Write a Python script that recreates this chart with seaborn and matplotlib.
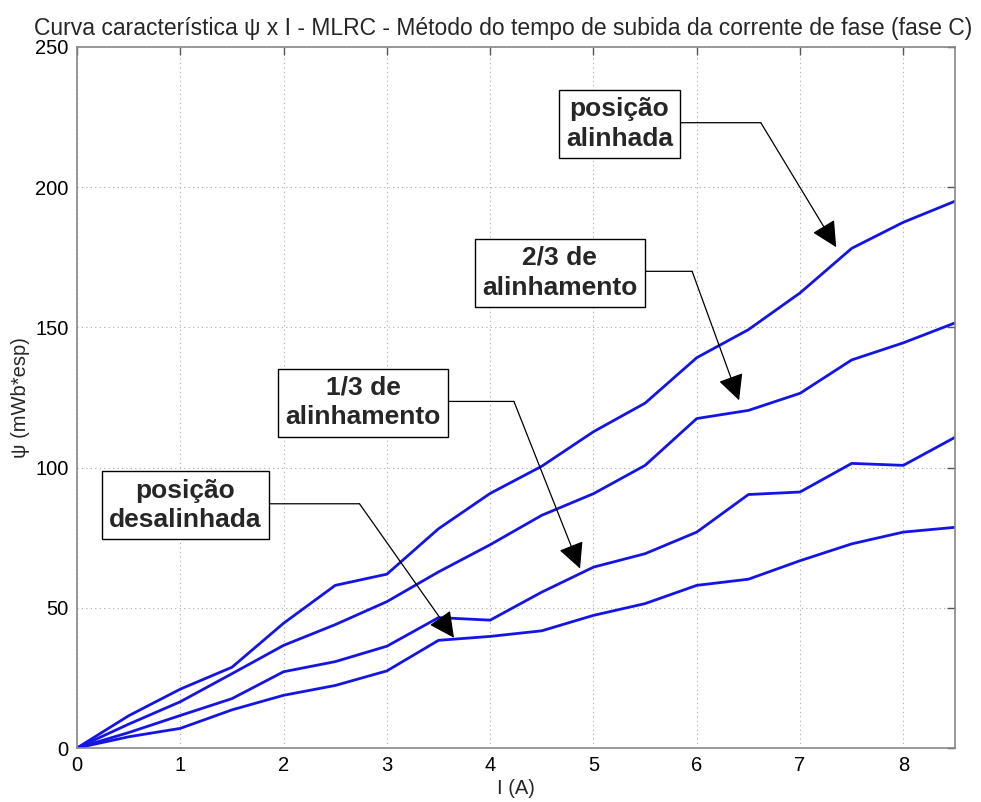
import numpy as np
import pandas as pd
import matplotlib
matplotlib.use("Agg")
import matplotlib.pyplot as plt
import seaborn as sns

current = [0, 0.5, 1, 1.5, 2, 2.5, 3, 3.5, 4, 4.5, 5, 5.5, 6, 6.5, 7, 7.5, 8, 8.5]
psi_alinhada = [0, 11.5, 21, 28.8, 44.5, 58, 62, 78.2, 90.8, 100.5, 112.8, 123, 139.2, 149.2, 162.3, 178.2, 187.5, 195]
psi_2_3 = [0, 8.5, 16.5, 26.5, 36.6, 44, 52.2, 62.8, 72.5, 83, 90.7, 100.8, 117.5, 120.4, 126.5, 138.4, 144.5, 151.6]
psi_1_3 = [0, 5.5, 11.6, 17.6, 27.2, 30.8, 36.3, 46.5, 45.6, 55.6, 64.5, 69.3, 77, 90.4, 91.3, 101.5, 100.8, 110.8]
psi_desalinhada = [0, 4, 7, 13.6, 18.8, 22.3, 27.5, 38.4, 39.8, 41.8, 47.3, 51.5, 58, 60.2, 66.8, 72.8, 77, 78.7]

series_names = ["alinhada", "2/3", "1/3", "desalinhada"]
series_values = [psi_alinhada, psi_2_3, psi_1_3, psi_desalinhada]

rows = []
for name, vals in zip(series_names, series_values):
    for x, y in zip(current, vals):
        rows.append({"I": x, "psi": y, "curva": name})
df = pd.DataFrame(rows)

title = "Curva característica ψ x I - MLRC - Método do tempo de subida da corrente de fase (fase C)"
xlabel = "I (A)"
ylabel = "ψ (mWb*esp)"
x_ticks = [0, 1, 2, 3, 4, 5, 6, 7, 8]
y_ticks = [0, 50, 100, 150, 200, 250]

sns.set_style("white")
plt.rcParams["font.family"] = ["Liberation Sans", "DejaVu Sans"]

fig = plt.figure(figsize=(9.81, 8.02), dpi=100)
ax = fig.add_axes([77/981, 54/802, 878/981, 701/802])

blue = "#1414e6"
sns.lineplot(data=df, x="I", y="psi", hue="curva", hue_order=series_names,
             palette=[blue]*4, linewidth=2.0, legend=False, ax=ax, estimator=None,
             sort=False)

ax.set_xlim(0, 8.5)
ax.set_ylim(0, 250)
ax.set_xticks(x_ticks)
ax.set_yticks(y_ticks)
ax.tick_params(direction="in", length=6, width=1, colors="#555555", labelcolor="black",
               labelsize=14.5, top=True, right=True, pad=6)
for s in ax.spines.values():
    s.set_color("#888888")
    s.set_linewidth(1.2)
ax.grid(True, linestyle=(0, (1, 3)), color="#aaaaaa", linewidth=0.8)

fig.text(503/981, 1 - 28/802, title, fontsize=16.5, ha="center", va="center")
ax.set_xlabel(xlabel, fontsize=14.5, labelpad=3)
ax.set_ylabel(ylabel, fontsize=14.5, labelpad=4)

bbox = dict(boxstyle="square,pad=0.27", fc="white", ec="black", lw=1)
notes = [
    ("posição\nalinhada", (5.25, 222.5), (6.62, 223), (7.35, 178.6)),
    ("2/3 de\nalinhamento", (4.675, 169.5), (5.955, 170), (6.41, 124)),
    ("1/3 de\nalinhamento", (2.77, 123.2), (4.23, 123.6), (4.87, 64)),
    ("posição\ndesalinhada", (1.05, 86.5), (2.735, 87.1), (3.65, 39.3)),
]
for text, center, corner, tip in notes:
    ax.annotate("", xy=tip, xytext=corner,
                arrowprops=dict(arrowstyle="-|>,head_length=1.6,head_width=0.8",
                                color="black", lw=0.9, shrinkA=0, shrinkB=0),
                zorder=4)
    ax.annotate("", xy=corner, xytext=(center[0], corner[1]),
                arrowprops=dict(arrowstyle="-", color="black", lw=0.9,
                                shrinkA=0, shrinkB=0), zorder=3)
    ax.text(center[0], center[1], text, ha="center", va="center", fontsize=19,
            fontweight="bold", bbox=bbox, zorder=5, linespacing=1.3)

fig.savefig("out.png", dpi=100)
